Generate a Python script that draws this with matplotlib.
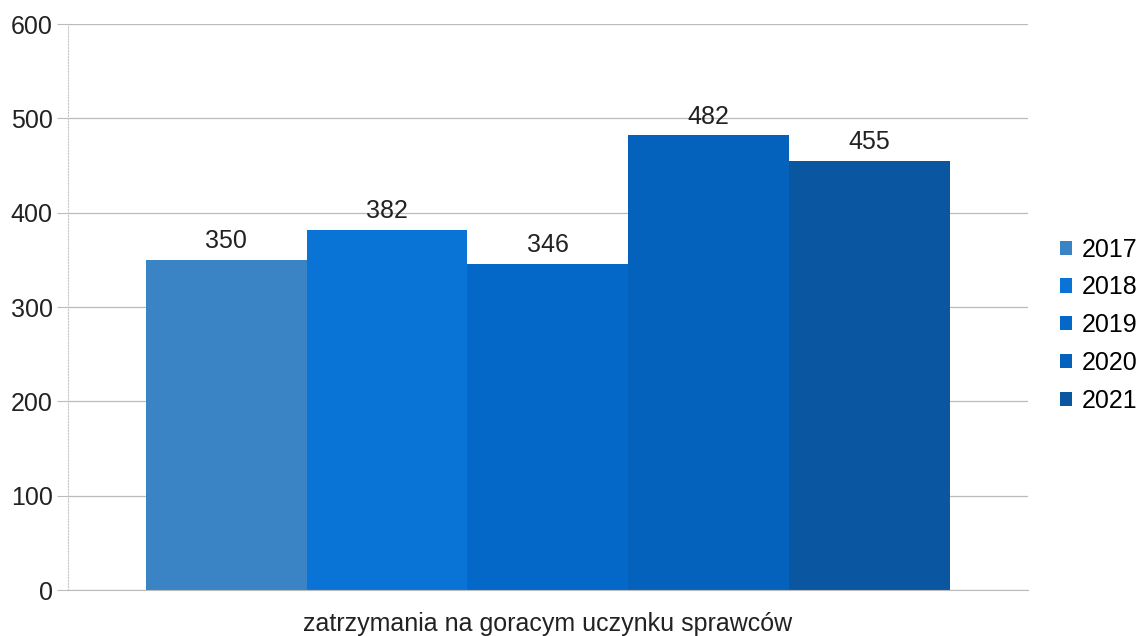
import numpy as np
import matplotlib.pyplot as plt

plt.rcParams['font.family'] = ['Liberation Sans', 'DejaVu Sans']

category = "zatrzymania na goracym uczynku sprawców"
years = ["2017", "2018", "2019", "2020", "2021"]
values = [350, 382, 346, 482, 455]
colors = ["#3a84c6", "#0a74d6", "#0468c8", "#0462bc", "#0a56a0"]

fig = plt.figure(figsize=(11.43, 6.36), dpi=100)
ax = fig.add_axes([0.0595, 0.0723, 0.8395, 0.8897])

w = 0.1675
offs = (np.arange(len(years)) - 2) * w
for i in range(len(years)):
    b = ax.bar(offs[i], values[i], width=w, color=colors[i], label=years[i], zorder=2)
    ax.bar_label(b, labels=[str(values[i])], padding=5, fontsize=18, color="#222222")

ax.set_xlim(-0.5, 0.5)
ax.set_ylim(0, 600)
ax.set_yticks(range(0, 601, 100))
ax.set_xticks([0])
ax.set_xticklabels([category], fontsize=18, color="#222222")
ax.tick_params(axis='y', labelsize=18, colors="#222222", length=8, color="#bbbbbb", pad=3)
ax.tick_params(axis='x', length=0, pad=16)
ax.yaxis.grid(True, color="#bbbbbb", linewidth=0.9, zorder=0)
for s in ["top", "right"]:
    ax.spines[s].set_visible(False)
ax.spines["left"].set_color("#c8c8c8")
ax.spines["left"].set_linestyle(":")
ax.spines["bottom"].set_color("#bbbbbb")

ax.legend(loc="center left", bbox_to_anchor=(1.01, 0.468), frameon=False, fontsize=18,
          handlelength=0.5, handleheight=0.5, handletextpad=0.4, labelspacing=0.55)

fig.savefig("out.png", dpi=100)
